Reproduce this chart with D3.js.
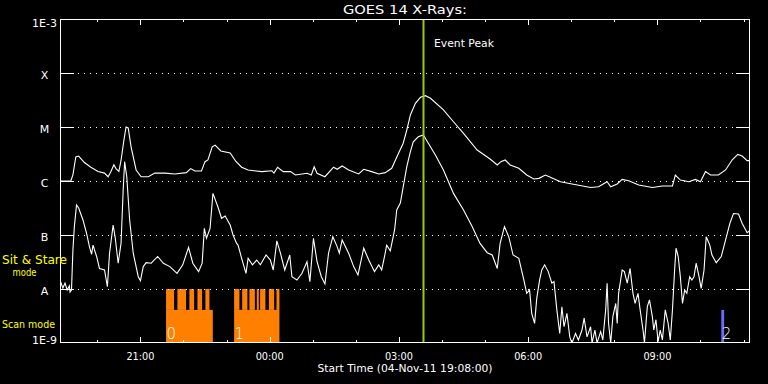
<!DOCTYPE html>
<html>
<head>
<meta charset="utf-8">
<script src="https://cdn.jsdelivr.net/npm/d3@7"></script>
<style>
  body { margin: 0; background: #000; }
  svg { display: block; }
  text { font-family: 'DejaVu Sans', sans-serif; fill: #fff; }
</style>
</head>
<body>
<svg id="goes-svg" width="768" height="384"></svg>
<script>
// start of plot, minutes are counted from here
var startTime = Date.UTC(2011, 10, 4, 19, 8)
var spanMinutes = 961

// GOES 14 long channel (1-8 A), minutes from start / flux W m^-2
var longMinutes = [0, 15, 18, 22, 26, 34, 43, 53, 62, 67, 71, 75, 78, 82, 85, 89, 92, 95, 99, 106,
  113, 123, 132, 146, 160, 176, 182, 188, 197, 202, 206, 212, 216, 224, 237, 245, 253, 262, 281, 295,
  298, 303, 311, 321, 328, 344, 350, 354, 358, 369, 381, 386, 393, 402, 416, 423, 434, 444, 453, 462,
  471, 478, 483, 488, 495, 502, 509, 516, 534, 548, 562, 581, 599, 609, 614, 620, 627, 639, 650, 660,
  667, 676, 683, 697, 715, 739, 750, 762, 767, 776, 783, 792, 806, 825, 839, 853, 857, 864, 876, 885,
  892, 899, 906, 917, 927, 936, 944, 950, 957, 962]
var longFlux = [1.0e-6, 1.0e-6, 1.3e-6, 2.8e-6, 2.9e-6, 2.2e-6, 1.8e-6, 1.5e-6, 1.4e-6, 1.2e-6,
  1.5e-6, 2.0e-6, 1.7e-6, 1.5e-6, 2.4e-6, 5.7e-6, 1.0e-5, 9.6e-6, 4.3e-6, 1.6e-6,
  1.2e-6, 1.2e-6, 1.4e-6, 1.4e-6, 1.35e-6, 1.43e-6, 1.7e-6, 1.53e-6, 1.53e-6, 2.28e-6,
  2.45e-6, 4.3e-6, 4.6e-6, 3.6e-6, 3.3e-6, 2.3e-6, 1.8e-6, 1.6e-6, 1.49e-6, 1.55e-6,
  1.4e-6, 1.8e-6, 1.49e-6, 1.49e-6, 1.29e-6, 1.39e-6, 1.29e-6, 1.84e-6, 1.39e-6, 1.2e-6,
  1.8e-6, 1.65e-6, 1.9e-6, 1.6e-6, 1.35e-6, 1.65e-6, 1.49e-6, 1.35e-6, 1.43e-6, 1.72e-6,
  3.16e-6, 5.0e-6, 8.8e-6, 1.67e-5, 2.75e-5, 3.55e-5, 3.8e-5, 3.4e-5, 2.07e-5, 1.25e-5,
  7.6e-6, 3.75e-6, 2.55e-6, 1.98e-6, 2.28e-6, 2.45e-6, 1.98e-6, 1.72e-6, 1.29e-6, 1.09e-6,
  1.12e-6, 1.29e-6, 1.17e-6, 9.7e-7, 8.7e-7, 7.6e-7, 7.8e-7, 9.7e-7, 7.8e-7, 8.8e-7,
  1.07e-6, 1.01e-6, 8.4e-7, 7.6e-7, 8.1e-7, 8.1e-7, 1.29e-6, 1.04e-6, 9.7e-7, 1.07e-6,
  9.7e-7, 1.49e-6, 1.29e-6, 1.29e-6, 1.6e-6, 2.45e-6, 3.1e-6, 2.9e-6, 2.38e-6, 2.38e-6]

// GOES 14 short channel (0.5-4 A)
var shortMinutes = [1, 4, 7, 10, 13, 14, 16, 18, 20, 23, 26, 32, 37, 41, 44, 46, 51, 55, 62, 66,
  69, 74, 77, 81, 85, 88, 90, 93, 97, 102, 109, 112, 116, 120, 127, 136, 144, 153, 163, 171,
  179, 185, 193, 198, 201, 204, 209, 213, 220, 225, 230, 237, 241, 246, 248, 253, 259, 262, 268, 274,
  279, 287, 293, 297, 302, 307, 313, 320, 323, 330, 337, 344, 348, 353, 358, 364, 369, 374, 380, 386,
  389, 393, 402, 409, 415, 423, 430, 438, 444, 448, 452, 455, 460, 466, 469, 474, 478, 483, 488, 492,
  499, 506, 513, 523, 534, 548, 562, 574, 585, 595, 602, 609, 613, 619, 625, 631, 639, 646, 650, 654,
  657, 661, 664, 668, 671, 675, 680, 685, 688, 692, 696, 699, 702, 706, 710, 713, 718, 722, 727, 730,
  734, 739, 741, 745, 748, 753, 756, 760, 762, 764, 767, 770, 774, 776, 778, 783, 786, 790, 794, 798,
  801, 805, 808, 812, 814, 818, 821, 825, 827, 830, 833, 836, 839, 843, 847, 850, 853, 856, 858, 861,
  864, 867, 870, 873, 877, 880, 883, 886, 890, 893, 897, 900, 905, 908, 914, 921, 927, 933, 938, 945,
  950, 957, 962]
var shortFlux = [1.35e-8, 1.04e-8, 1.29e-8, 9.6e-9, 1.14e-8, 8.8e-9, 9.6e-9, 5.3e-8, 1.43e-7, 3.6e-7,
  3.16e-7, 1.9e-7, 1.07e-7, 6.1e-8, 4.4e-8, 6.5e-8, 4.0e-8, 2.4e-8, 2.25e-8, 1.1e-8,
  4.6e-8, 1.53e-7, 8.7e-8, 3.0e-8, 7.0e-8, 6.8e-7, 2.28e-6, 1.2e-6, 1.9e-7, 4.6e-8,
  1.69e-8, 1.43e-8, 2.6e-8, 3.07e-8, 3.0e-8, 4.0e-8, 3.0e-8, 2.6e-8, 1.95e-8, 2.8e-8,
  5.9e-8, 3.0e-8, 2.1e-8, 3.0e-8, 1.33e-7, 8.7e-8, 1.33e-7, 5.9e-7, 3.3e-7, 2.04e-7,
  2.25e-7, 1.53e-7, 1.0e-7, 7.0e-8, 6.5e-8, 3.7e-8, 1.95e-8, 3.7e-8, 2.8e-8, 3.44e-8,
  2.8e-8, 4.26e-8, 3.44e-8, 2.25e-8, 7.8e-8, 4.6e-8, 2.25e-8, 4.26e-8, 1.69e-8, 1.47e-8,
  1.95e-8, 3.2e-8, 1.37e-8, 8.7e-8, 3.2e-8, 1.69e-8, 1.24e-8, 4.6e-8, 9.3e-8, 6.1e-8,
  4.6e-8, 8.1e-8, 4.6e-8, 2.6e-8, 1.82e-8, 5.7e-8, 3.44e-8, 2.1e-8, 2.8e-8, 2.25e-8,
  4.0e-8, 6.5e-8, 5.1e-8, 1.24e-7, 2.9e-7, 3.9e-7, 7.8e-7, 1.84e-6, 3.5e-6, 5.3e-6,
  6.6e-6, 7.1e-6, 5.0e-6, 3.0e-6, 1.6e-6, 5.9e-7, 2.9e-7, 1.43e-7, 7.0e-8, 4.7e-8,
  4.26e-8, 2.4e-8, 7.0e-8, 1.43e-7, 9.3e-8, 4.26e-8, 3.7e-8, 1.47e-8, 8.3e-9, 9.6e-9,
  3.55e-9, 2.3e-9, 6.7e-9, 1.47e-8, 2.25e-8, 2.8e-8, 2.1e-8, 1.28e-8, 1.37e-8, 4.1e-9,
  1.5e-9, 4.7e-9, 2.0e-9, 3.55e-9, 1.3e-9, 1.0e-9, 1.5e-9, 1.14e-9, 1.74e-9, 2.9e-9,
  1.3e-9, 2.0e-9, 1.0e-9, 1.74e-9, 1.0e-9, 1.62e-9, 1.14e-9, 4.1e-9, 1.28e-8, 2.3e-9,
  1.0e-9, 3.07e-9, 5.4e-9, 2.3e-9, 8.3e-9, 2.25e-8, 2.1e-8, 1.28e-8, 2.4e-8, 8.3e-9,
  5.4e-9, 8.3e-9, 4.1e-9, 1.74e-9, 1.0e-9, 4.7e-9, 6.3e-9, 3.07e-9, 1.74e-9, 2.7e-9,
  1.06e-9, 1.74e-9, 1.14e-9, 4.1e-9, 2.3e-9, 1.14e-9, 4.1e-9, 2.25e-8, 5.7e-8, 4.0e-8,
  1.69e-8, 5.4e-9, 9.6e-9, 8.3e-9, 1.69e-8, 1.47e-8, 1.69e-8, 3.0e-8, 1.69e-8, 1.03e-8,
  2.25e-8, 9.3e-8, 6.5e-8, 4.26e-8, 3.07e-8, 4.0e-8, 8.1e-8, 1.65e-7, 2.5e-7, 2.45e-7,
  1.65e-7, 1.1e-7, 1.24e-7]

// flare class levels
var levelFlux = [1e-3, 1e-4, 1e-5, 1e-6, 1e-7, 1e-8, 1e-9]
var levelLabels = ['1E-3', 'X', 'M', 'C', 'B', 'A', '1E-9']

// observations: [start, end] in minutes from start, label, colour
var scanObs = [[147.7, 212.8], [242.5, 305.6], [921, 925]]
var scanLabels = ['0', '1', '2']
var scanColors = ['#ff8000', '#ff8000', '#6a6aff']
// sit & stare intervals inside the scan blocks
var stareObs = [[147.7, 158.9], [163.5, 175.6], [180.2, 186.8], [191.4, 197.9], [202.5, 208.1],
  [242.5, 249.9], [253.7, 261.0], [263.8, 271.4], [274.1, 276.9], [278.7, 286.1],
  [290.9, 298.3], [301.5, 305.6]]
var scanLevel = 4.1e-9
var stareLevel = 1e-8

var peakMinute = 506

var margin = { top: 19, right: 18, bottom: 41, left: 60 }
var svg = d3.select('#goes-svg')
var width = 768 - margin.left - margin.right
var height = 384 - margin.top - margin.bottom

function toDate(m) {
  return new Date(startTime + m * 60000)
}

var x = d3.scaleTime()
  .domain([toDate(0), toDate(spanMinutes)])
  .range([margin.left, margin.left + width])
var y = d3.scaleLog()
  .domain([1e-9, 1e-3])
  .range([margin.top + height, margin.top])

var x0 = margin.left
var x1 = margin.left + width
var yTop = margin.top
var yBot = margin.top + height

// observation bars
svg.append('g')
  .selectAll('rect')
  .data(scanObs)
  .enter()
  .append('rect')
  .attr('x', d => x(toDate(d[0])))
  .attr('width', d => x(toDate(d[1])) - x(toDate(d[0])))
  .attr('y', y(scanLevel))
  .attr('height', yBot - y(scanLevel))
  .attr('fill', (d, i) => scanColors[i])

svg.append('g')
  .selectAll('rect')
  .data(stareObs)
  .enter()
  .append('rect')
  .attr('x', d => x(toDate(d[0])))
  .attr('width', d => x(toDate(d[1])) - x(toDate(d[0])))
  .attr('y', y(stareLevel))
  .attr('height', y(scanLevel) - y(stareLevel))
  .attr('fill', '#ff8000')

svg.append('g')
  .selectAll('text')
  .data(scanObs)
  .enter()
  .append('text')
  .attr('x', d => x(toDate(d[0])) + 0.5)
  .attr('y', 338.5)
  .attr('font-size', 15)
  .attr('font-weight', 200)
  .text((d, i) => scanLabels[i])

// grid lines at class levels
var grid = svg.append('g').attr('stroke', '#fff').attr('stroke-width', 1)
levelFlux.slice(1, -1).forEach(function (f) {
  var yy = Math.round(y(f)) + 0.5
  grid.append('line').attr('x1', x0).attr('x2', x0 + 14).attr('y1', yy).attr('y2', yy)
  grid.append('line').attr('x1', x1 - 14).attr('x2', x1).attr('y1', yy).attr('y2', yy)
  grid.append('line')
    .attr('x1', x0 + 18).attr('x2', x1 - 14)
    .attr('y1', yy).attr('y2', yy)
    .attr('stroke-dasharray', '1,5')
})

// flux curves
var clip = svg.append('clipPath').attr('id', 'plot-clip')
clip.append('rect').attr('x', x0).attr('y', yTop).attr('width', width).attr('height', height)

var line = d3.line()
  .x(d => x(toDate(d[0])))
  .y(d => y(d[1]))

svg.append('path')
  .datum(longMinutes.map((m, i) => [m, longFlux[i]]))
  .attr('d', line)
  .attr('clip-path', 'url(#plot-clip)')
  .attr('fill', 'none')
  .attr('stroke', '#fff')
  .attr('stroke-width', 1.1)

svg.append('path')
  .datum(shortMinutes.map((m, i) => [m, shortFlux[i]]))
  .attr('d', line)
  .attr('clip-path', 'url(#plot-clip)')
  .attr('fill', 'none')
  .attr('stroke', '#fff')
  .attr('stroke-width', 1.1)

// event peak marker
var xPeak = Math.round(x(toDate(peakMinute))) + 0.5
svg.append('line')
  .attr('x1', xPeak).attr('x2', xPeak)
  .attr('y1', yTop).attr('y2', yBot)
  .attr('stroke', '#9acd00')
  .attr('stroke-width', 2)
svg.append('text')
  .attr('x', xPeak + 10.5)
  .attr('y', 47)
  .attr('font-size', 11)
  .attr('textLength', 60)
  .attr('lengthAdjust', 'spacingAndGlyphs')
  .text('Event Peak')

// frame
svg.append('rect')
  .attr('x', x0 + 0.5).attr('y', yTop + 0.5)
  .attr('width', width - 1).attr('height', height - 1)
  .attr('fill', 'none')
  .attr('stroke', '#fff')
  .attr('stroke-width', 1)

// time ticks, top and bottom
var hourTicks = x.ticks(d3.utcHour.every(1))
var ticks = svg.append('g').attr('stroke', '#fff').attr('stroke-width', 1)
hourTicks.forEach(function (t) {
  var xx = Math.round(x(t)) + 0.5
  var len = t.getUTCHours() % 3 === 0 ? 6 : 3
  ticks.append('line').attr('x1', xx).attr('x2', xx).attr('y1', yTop).attr('y2', yTop + len)
  ticks.append('line').attr('x1', xx).attr('x2', xx).attr('y1', yBot).attr('y2', yBot - len)
})

var fmt = d3.utcFormat('%H:%M')
svg.append('g')
  .selectAll('text')
  .data(x.ticks(d3.utcHour.every(3)))
  .enter()
  .append('text')
  .attr('x', d => x(d))
  .attr('y', 359.5)
  .attr('text-anchor', 'middle')
  .attr('font-size', 10)
  .attr('textLength', 28)
  .attr('lengthAdjust', 'spacingAndGlyphs')
  .text(d => fmt(d))

// flux level labels
svg.append('g')
  .selectAll('text')
  .data(levelFlux)
  .enter()
  .append('text')
  .attr('x', 44.5)
  .attr('y', (d, i) => i === 0 ? 27 : (i === levelFlux.length - 1 ? 343.5 : y(d) + 5.5))
  .attr('text-anchor', 'middle')
  .attr('font-size', 11)
  .text((d, i) => levelLabels[i])

// mode labels
svg.append('text').attr('x', 2).attr('y', 263.5).attr('font-size', 11.5)
  .attr('textLength', 65).attr('lengthAdjust', 'spacingAndGlyphs')
  .style('fill', '#ffff00').text('Sit & Stare')
svg.append('text').attr('x', 12.5).attr('y', 275.5).attr('font-size', 11)
  .attr('textLength', 24).attr('lengthAdjust', 'spacingAndGlyphs')
  .style('fill', '#ffff00').text('mode')
svg.append('text').attr('x', 2).attr('y', 328).attr('font-size', 11)
  .attr('textLength', 53).attr('lengthAdjust', 'spacingAndGlyphs')
  .style('fill', '#ffff00').text('Scan mode')

// title and x label
svg.append('text')
  .attr('x', (x0 + x1) / 2)
  .attr('y', 14)
  .attr('text-anchor', 'middle')
  .attr('font-size', 12)
  .attr('textLength', 124)
  .attr('lengthAdjust', 'spacingAndGlyphs')
  .text('GOES 14 X-Rays:')
svg.append('text')
  .attr('x', (x0 + x1) / 2)
  .attr('y', 372)
  .attr('text-anchor', 'middle')
  .attr('font-size', 11)
  .attr('textLength', 175)
  .attr('lengthAdjust', 'spacingAndGlyphs')
  .text('Start Time (04-Nov-11 19:08:00)')
</script>
</body>
</html>
